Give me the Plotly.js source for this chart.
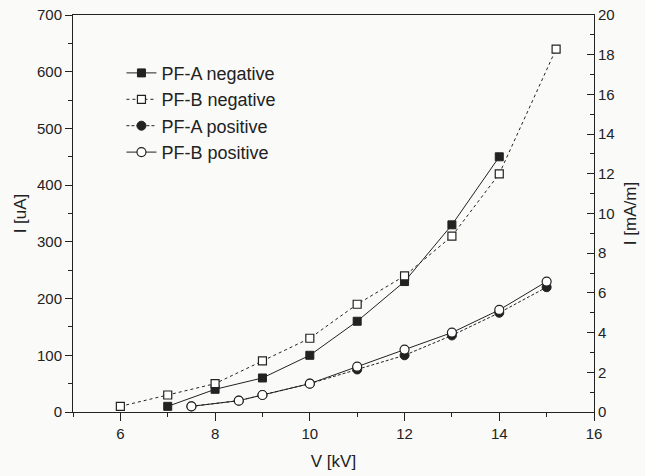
<!DOCTYPE html>
<html>
<head>
<meta charset="utf-8">
<script src="https://cdn.plot.ly/plotly-3.0.1.min.js"></script>
<style>html,body{margin:0;padding:0;background:#fafaf9;}#chart{width:645px;height:476px;}</style>
</head>
<body>
<div id="chart"></div>
<script>
// Data (V in kV, I in uA)
const vAneg = [7, 8, 9, 10, 11, 12, 13, 14];
const iAneg = [10, 40, 60, 100, 160, 230, 330, 450];
const vBneg = [6, 7, 8, 9, 10, 11, 12, 13, 14, 15.2];
const iBneg = [10, 30, 50, 90, 130, 190, 240, 310, 420, 640];
const vApos = [7.5, 8.5, 9, 10, 11, 12, 13, 14, 15];
const iApos = [10, 20, 30, 50, 75, 100, 135, 175, 220];
const vBpos = [7.5, 8.5, 9, 10, 11, 12, 13, 14, 15];
const iBpos = [10, 20, 30, 50, 80, 110, 140, 180, 230];
const names = ['PF-A negative', 'PF-B negative', 'PF-A positive', 'PF-B positive'];

const ink = '#222';
const font = 'Liberation Sans, Arial, sans-serif';

const traces = [
  {x: vAneg, y: iAneg, name: names[0], mode: 'lines+markers',
   line: {color: ink, width: 1, dash: 'solid'},
   marker: {symbol: 'square', size: 8, color: ink, line: {color: ink, width: 1}}},
  {x: vBneg, y: iBneg, name: names[1], mode: 'lines+markers',
   line: {color: ink, width: 1, dash: 'dot'},
   marker: {symbol: 'square', size: 8, color: '#fff', line: {color: ink, width: 1.2}}},
  {x: vApos, y: iApos, name: names[2], mode: 'lines+markers',
   line: {color: ink, width: 1, dash: '3px,2px'},
   marker: {symbol: 'circle', size: 9, color: ink, line: {color: ink, width: 1}}},
  {x: vBpos, y: iBpos, name: names[3], mode: 'lines+markers',
   line: {color: ink, width: 1, dash: 'solid'},
   marker: {symbol: 'circle', size: 9, color: '#fff', line: {color: ink, width: 1.2}}},
  {x: [], y: [], yaxis: 'y2', showlegend: false, hoverinfo: 'skip'}
];

const layout = {
  width: 645, height: 476,
  margin: {l: 73, r: 51, t: 15, b: 64},
  paper_bgcolor: '#fafaf9', plot_bgcolor: '#fafaf9',
  font: {family: font, size: 15, color: ink},
  showlegend: true,
  legend: {x: 0.093, y: 0.9, xanchor: 'left', yanchor: 'top',
           bgcolor: 'rgba(0,0,0,0)', font: {family: font, size: 18, color: ink},
           tracegroupgap: 0},
  xaxis: {range: [5, 16], tick0: 0, dtick: 2, ticks: 'outside', ticklen: 8, tickwidth: 1,
          tickcolor: ink, showline: true, linecolor: ink, linewidth: 1, mirror: true,
          showgrid: false, zeroline: false,
          minor: {dtick: 1, ticks: 'outside', ticklen: 4, tickcolor: ink, showgrid: false},
          tickfont: {size: 15},
          title: {text: 'V [kV]', font: {size: 17}, standoff: 14}},
  yaxis: {range: [0, 700], dtick: 100, ticks: 'outside', ticklen: 7, tickwidth: 1,
          tickcolor: ink, showline: true, linecolor: ink, linewidth: 1,
          showgrid: false, zeroline: false,
          minor: {dtick: 50, ticks: 'outside', ticklen: 4, tickcolor: ink, showgrid: false},
          tickfont: {size: 15},
          title: {text: 'I [uA]', font: {size: 17}, standoff: 6}},
  yaxis2: {overlaying: 'y', side: 'right', range: [0, 20], dtick: 2, ticks: 'inside',
           ticklen: 7, tickwidth: 1, tickcolor: ink, showline: true, linecolor: ink,
           linewidth: 1, showgrid: false, zeroline: false,
           minor: {dtick: 1, ticks: 'inside', ticklen: 4, tickcolor: ink, showgrid: false},
           tickfont: {size: 15},
           title: {text: 'I [mA/m]', font: {size: 17}, standoff: 10}}
};

Plotly.newPlot('chart', traces, layout, {displayModeBar: false, staticPlot: true});
</script>
</body>
</html>
